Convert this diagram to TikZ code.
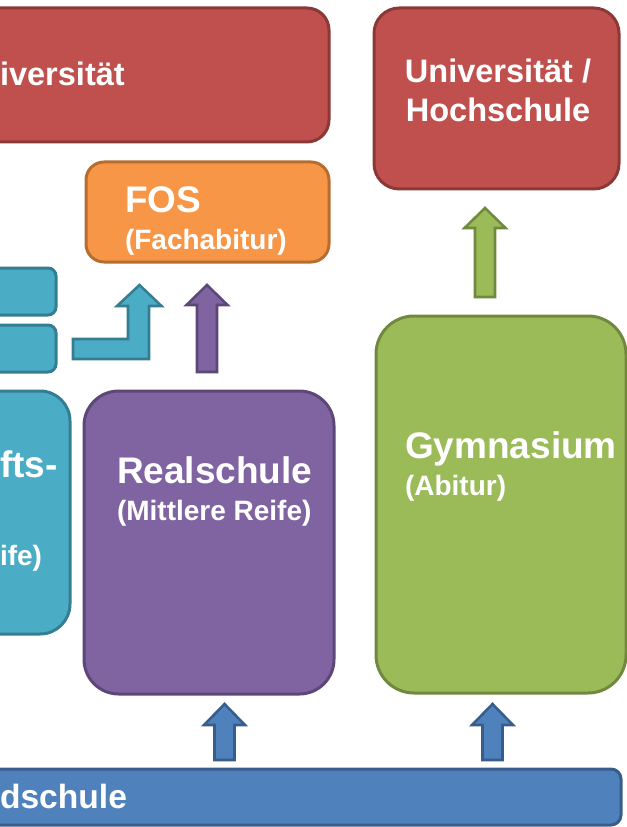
\documentclass[tikz,border=0pt]{standalone}
\usepackage{fontspec}
\setmainfont{Liberation Sans}
\definecolor{redF}{HTML}{C0504D}\definecolor{redD}{HTML}{8C3836}
\definecolor{orF}{HTML}{F79646}\definecolor{orD}{HTML}{B66D31}
\definecolor{tlF}{HTML}{4BACC6}\definecolor{tlD}{HTML}{357D91}
\definecolor{puF}{HTML}{8064A2}\definecolor{puD}{HTML}{5C4776}
\definecolor{grF}{HTML}{9BBB59}\definecolor{grD}{HTML}{71893F}
\definecolor{blF}{HTML}{4F81BD}\definecolor{blD}{HTML}{385D8A}
\newcommand\fbig{\fontsize{27.75}{32}\selectfont\bfseries}
\newcommand\funi{\fontsize{24.4}{29}\selectfont\bfseries}
\newcommand\fsub{\fontsize{21}{25}\selectfont\bfseries}
\newcommand\fgs{\fontsize{25.2}{30}\selectfont\bfseries}
\newcommand\uparr[5]{% style, xc, tip y, head base y, bottom y
  \draw[#1] ({#2-10},#5) -- ({#2-10},#4) -- ({#2-20.5},#4) -- (#2,#3) -- ({#2+20.5},#4) -- ({#2+10},#4) -- ({#2+10},#5) -- cycle;}
\begin{document}
\begin{tikzpicture}[x=0.75pt,y=-0.75pt,
  bx/.style={rectangle,draw,line width=2.25pt,inner sep=0pt,outer sep=0pt},
  lbl/.style={text=white,inner sep=0pt,outer sep=0pt},
  arr/.style={line width=1.9pt,line join=miter}]
\useasboundingbox (0,0) rectangle (627,827);
\clip (0,0) rectangle (627,827);
% boxes
\node[bx,fill=redF,draw=redD,rounded corners=16.5pt,minimum width=269.25pt,minimum height=100.5pt] (uniL) at (149.5,75) {};
\node[bx,fill=redF,draw=redD,rounded corners=19pt,minimum width=183.75pt,minimum height=135.75pt] (uniR) at (496.5,98.5) {};
\node[bx,fill=orF,draw=orD,rounded corners=13.5pt,minimum width=182.25pt,minimum height=75pt] (fos) at (207.5,212) {};
\node[bx,fill=tlF,draw=tlD,rounded corners=6pt,minimum width=64.5pt,minimum height=35.25pt] (tlA) at (13,291.5) {};
\node[bx,fill=tlF,draw=tlD,rounded corners=6pt,minimum width=64.5pt,minimum height=35.25pt] (tlB) at (13,348.5) {};
\node[bx,fill=tlF,draw=tlD,rounded corners=22.5pt,minimum width=82.5pt,minimum height=182.25pt] (wirt) at (15,512.5) {};
\node[bx,fill=puF,draw=puD,rounded corners=26pt,minimum width=187.5pt,minimum height=227.25pt] (real) at (209,542.5) {};
\node[bx,fill=grF,draw=grD,rounded corners=28.5pt,minimum width=187.5pt,minimum height=282.75pt] (gym) at (501,504.5) {};
\node[bx,fill=blF,draw=blD,rounded corners=7.5pt,minimum width=488.25pt,minimum height=42pt] (grund) at (295.5,797) {};
% labels
\node[lbl,anchor=base west] (tuniL) at (0,86) {\funi iversität};
\node[lbl,anchor=base] (tuniR1) at (498,83) {\funi Universität /};
\node[lbl,anchor=base] (tuniR2) at (498,122) {\funi Hochschule};
\node[lbl,anchor=base west] (tfos1) at (125,213) {\fbig FOS};
\node[lbl,anchor=base west] (tfos2) at (125,249) {\fsub (Fachabitur)};
\node[lbl,anchor=base west] (treal1) at (117,483) {\fbig Realschule};
\node[lbl,anchor=base west] (treal2) at (117,520) {\fsub (Mittlere Reife)};
\node[lbl,anchor=base west] (tgym1) at (405,458) {\fbig Gymnasium};
\node[lbl,anchor=base west] (tgym2) at (405,495) {\fsub (Abitur)};
\node[lbl,anchor=base west] (twirt1) at (0,477) {\fbig fts-};
\node[lbl,anchor=base west] (twirt2) at (0,565) {\fsub ife)};
\node[lbl,anchor=base west] (tgrund) at (0,808) {\fgs dschule};
% block arrows
\uparr{arr,fill=grF,draw=grD}{485}{208}{228}{297}
\uparr{arr,fill=puF,draw=puD}{207}{285}{305}{372}
\uparr{arr,fill=blF,draw=blD}{224.5}{704}{725}{760}
\uparr{arr,fill=blF,draw=blD}{492.5}{704}{725}{760}
\draw[arr,fill=tlF,draw=tlD] (73,339) -- (128,339) -- (128,306) -- (117,306) -- (139.5,285) -- (161.5,306) -- (149,306) -- (149,359) -- (73,359) -- cycle;
\end{tikzpicture}
\end{document}
